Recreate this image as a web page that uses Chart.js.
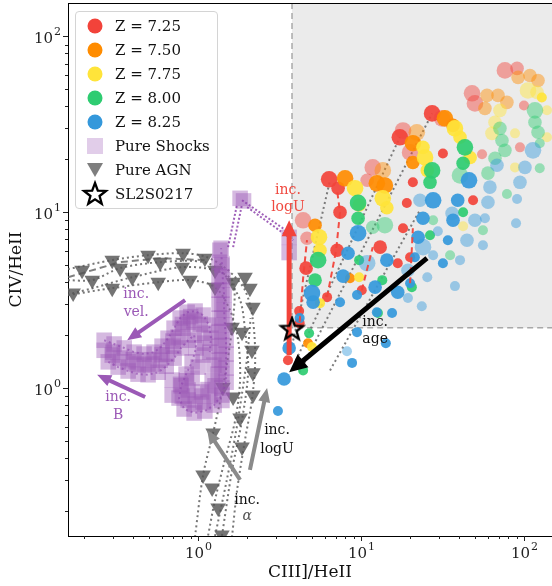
<!DOCTYPE html>
<html lang="en">
<head>
<meta charset="UTF-8">
<title>CIV/HeII vs CIII]/HeII</title>
<script src="https://cdn.jsdelivr.net/npm/chart.js"></script>
<style>
  html, body { margin: 0; padding: 0; background: #fff; overflow: hidden; }
  .wrap { position: relative; width: 552px; height: 586px; overflow: hidden; }
  .legend {
    position: absolute; left: 75px; top: 11px; width: 143px; height: 198px;
    box-sizing: border-box; border: 1px solid #d4d4d4; border-radius: 4px;
    background: rgba(255,255,255,0.85); padding-top: 2px;
    font-family: 'DejaVu Serif', serif; font-size: 15px; color: #111;
  }
  .row { display: flex; align-items: center; height: 24px; }
  .row svg { margin-left: 7px; width: 24px; height: 24px; overflow: visible; }
  .row span { margin-left: 8px; white-space: nowrap; }
</style>
</head>
<body>
<div class="wrap">
  <canvas id="c" width="552" height="586"></canvas>
  <div class="legend" id="legend"></div>
</div>
<script>
// axis ranges
const X_MIN = 0.159, X_MAX = 148.6;
const Y_MIN = 0.144, Y_MAX = 155;
// tick marks: every 1..9 x 10^n, labels on the decades
const TICK_DECADES = [-1, 0, 1, 2];
const TICK_MULTS = [1, 2, 3, 4, 5, 6, 7, 8, 9];
// grey box corner (CIII]/HeII, CIV/HeII)
const BOX_X = 3.77, BOX_Y = 2.2;

const zLabels = ['Z = 7.25', 'Z = 7.50', 'Z = 7.75', 'Z = 8.00', 'Z = 8.25'];
const zColors = ['242,67,58', '255,140,0', '255,228,58', '46,204,113', '52,152,219'];

// model points: [CIII]/HeII, CIV/HeII, size class, faded]
const z725 = [[27.3,36.5,3,0],[17.3,26.7,3,0],[18.1,29.2,3,1],[6.37,15.4,3,0],[7.23,13.7,2,0],[4.41,9.0,3,1],[4.66,7.12,2,1],[7.43,10.0,2,0],[7.13,6.08,2,0],[4.6,4.81,2,0],[6.19,3.29,1,0],[4.17,2.74,1,0],[13.1,6.33,2,0],[11.8,18.0,3,1],[10.9,15.2,2,1],[19.1,11.3,1,0],[18.1,8.11,1,0],[31.8,21.6,1,0],[48.7,11.7,1,0],[55.3,21.4,1,1],[94.5,23.4,1,1],[100,40.5,1,1],[48.0,47.5,3,1],[50.0,41.6,3,1],[76.4,64.1,3,1],[90.7,65.8,2,1],[20,21.9,3,1],[31.4,34.2,3,1],[3.56,1.44,1,0],[10.1,3.6,1,0],[16.8,5.13,1,0],[20.8,14.8,1,0],[4.2,2.34,1,0],[20,5.55,1,0]];
const z750 = [[7.98,15.6,3,0],[5.22,8.44,2,0],[13.6,17.3,3,1],[12.5,14.6,3,0],[20.8,24.7,3,0],[22.0,28.5,3,1],[20.8,19.2,2,0],[32.7,34.2,3,0],[59.3,46.2,2,1],[69.3,46.2,2,1],[57.6,39.0,2,1],[78.6,42.2,2,1],[92,58.5,2,1],[108.8,60.0,2,1],[122,56.2,2,1],[8.56,4.21,1,0],[4.73,1.80,1,0],[36.7,31.2,2,0],[14.0,14.2,3,0]];
const z775 = [[5.52,7.21,3,0],[5.6,6.08,2,0],[5.6,3.04,1,0],[9.19,13.7,3,0],[13.6,12.0,3,0],[14.4,10.6,2,0],[24,23.4,2,0],[24.7,20.5,3,0],[25.5,17.3,2,0],[37.7,30.0,3,0],[40.5,26.7,2,0],[71.2,38.0,2,1],[66.4,32.5,2,1],[63.6,28.1,2,1],[105.8,49.3,3,1],[120.2,48.1,2,1],[128.7,45.0,1,0],[138.4,38.0,1,1],[88.1,28.1,1,1],[88.1,18.0,1,1],[138.4,26.7,1,1],[9.73,4.27,1,0],[5.0,1.71,1,0],[9.73,11.0,2,0],[46.7,20.5,2,0],[42.3,8.33,1,1]];
const z800 = [[5.45,5.34,3,0],[5.22,4.11,2,0],[4.8,2.05,1,0],[4.41,1.26,1,0],[9.59,11.3,3,0],[9.59,9.25,2,0],[9.73,5.34,1,0],[14.0,8.44,3,1],[11.8,8.22,2,1],[13.5,4.11,1,0],[12.7,2.67,1,0],[27.3,17.3,3,0],[26.5,14.8,2,0],[27.7,9.0,1,1],[26.5,7.4,1,0],[43.4,23.4,3,0],[42.3,19.0,2,0],[42.3,10.0,1,0],[71.2,30.0,2,1],[73.3,25.6,2,1],[76.4,22.5,2,1],[66.4,20.3,2,1],[60.1,16.7,2,1],[56.0,7.9,1,1],[116.8,38.0,3,1],[116.8,32.5,2,1],[122,28.5,2,1],[125,24.7,1,1],[125,17.8,1,1],[78.6,12.7,1,1],[40.5,16.2,3,1],[20.5,3.75,1,0],[35.2,5.7,1,1]];
const z825 = [[5.0,3.47,3,0],[5.08,3.08,2,0],[4.2,2.5,1,0],[3.62,1.69,2,0],[3.37,1.125,2,0],[3.09,0.74,1,0],[8.2,1.62,1,1],[8.81,1.39,1,0],[14.2,1.80,1,0],[9.59,7.6,3,0],[8.32,5.85,2,0],[7.76,4.33,2,0],[7.43,3.08,1,0],[9.45,3.38,1,0],[14.4,5.34,2,0],[10.9,5.13,3,1],[12.2,3.75,2,0],[16.8,3.51,2,0],[15.5,2.67,1,0],[9.45,2.08,1,0],[27.7,11.7,3,0],[24,9.25,2,0],[23,11.7,2,1],[22.4,7.21,2,0],[24,6.33,3,1],[34.1,6.93,1,0],[31.8,5.13,1,0],[36.2,9.85,2,1],[46.0,15.2,3,0],[39.2,11.7,2,0],[36.7,9.0,2,0],[68.3,18.5,2,1],[61.8,13.9,2,1],[60.1,11.4,2,1],[50.0,9.0,2,1],[57.6,9.25,1,1],[44.7,6.93,2,1],[56.0,6.49,1,1],[113.6,22.5,3,1],[101.4,18.0,2,1],[94.5,14.8,2,1],[90.7,11.9,1,1],[89.4,8.66,1,1],[21.4,5.55,1,0],[19.4,4.68,2,1],[20,3.95,1,0],[19.4,3.25,1,1],[25.5,4.27,1,1],[40.5,5.34,1,1],[37.7,3.8,1,1],[23.6,2.92,1,1],[29.6,7.8,1,1],[27.7,5.7,1,1],[12.5,2.7,1,0]];
const zSets = [z725, z750, z775, z800, z825];

// model tracks through the grid
const redDashed = [
  [[4.2,2.37],[4.41,4.21],[4.66,6.94]],
  [[6.19,3.29],[7.03,6.08],[7.43,10.0],[7.13,13.3]],
  [[10.1,3.6],[11.8,6.33]],
  [[20,3.95],[20.8,8.11]]
];
const greyDotted = [
  [[3.77,1.75],[6.45,15.2]],
  [[3.99,1.44],[17.3,26.7]],
  [[4.2,1.23],[27.3,36.5]],
  [[6.45,1.26],[23,10.3]]
];

// pure AGN
const agnPoints = [[0.171,3.47],[0.194,4.68],[0.224,4.11],[0.297,5.34],[0.297,3.7],[0.332,4.81],[0.394,4.27],[0.493,5.7],[0.585,5.2],[0.569,4.0],[0.809,5.85],[0.798,4.87],[0.893,4.11],[1.10,5.48],[1.27,4.68],[1.27,3.75],[1.64,4.0],[1.94,4.27],[2.08,3.7],[2.17,2.88],[1.616,2.22],[1.86,2.08],[2.14,1.64],[2.17,1.22],[1.42,1.01],[1.64,0.889],[2.17,0.912],[1.81,0.675],[1.236,0.555],[1.86,0.462],[1.073,0.32],[1.219,0.27],[1.327,0.208],[1.40,0.146]];
const agnTracks = [
  [[0.159,4.75],[0.297,5.34],[0.493,5.7],[0.809,5.85],[1.136,5.55],[1.527,4.68],[1.94,3.6],[2.17,2.43],[2.24,1.44],[2.14,0.855],[1.94,0.507],[1.735,0.263],[1.616,0.144]],
  [[0.159,4.11],[0.224,4.11],[0.332,4.81],[0.585,5.2],[1.10,5.2],[1.46,4.39],[1.81,3.16],[1.94,2.14],[2.03,1.26],[1.86,0.658],[1.616,0.342],[1.40,0.144]],
  [[0.159,3.38],[0.297,3.7],[0.569,4.0],[0.893,4.11],[1.27,3.75],[1.57,2.77],[1.76,1.87],[1.81,1.11],[1.69,0.658],[1.46,0.39],[1.27,0.231],[1.15,0.144]],
  [[0.159,3.6],[0.171,3.47],[0.394,4.27],[0.798,4.87],[1.27,4.68],[1.64,4.0],[1.616,2.22],[1.42,1.01],[1.236,0.555],[1.073,0.32],[0.958,0.144]],
  [[1.27,0.144],[1.5,0.3],[1.7,0.55],[1.85,0.9],[2.0,1.5],[2.1,2.5]]
];
const agnDashed = [[0.159,4.27],[0.332,5.2],[0.585,5.48],[1.10,5.34]];

// pure shocks
const shockMid = [[0.265,1.64],[0.297,1.54],[0.332,1.48],[0.372,1.41],[0.417,1.37],[0.466,1.35],[0.522,1.37],[0.585,1.44],[0.645,1.56],[0.703,1.73],[0.754,1.95],[0.809,2.19],[0.868,2.37],[0.945,2.43],[1.03,2.31],[1.088,2.05],[1.10,1.80],[1.073,1.54],[1.0,1.316],[0.919,1.14],[0.868,0.975],[0.868,0.855],[0.958,0.811],[1.073,0.833],[1.18,0.901],[1.27,1.03],[1.327,1.20],[1.345,1.44],[1.345,1.73],[1.345,2.08],[1.345,2.5],[1.345,3.0],[1.345,3.6],[1.345,4.33],[1.345,5.2],[1.36,6.08]];
const shockUpper = [[0.265,1.87],[0.305,1.78],[0.352,1.69],[0.405,1.60],[0.466,1.56],[0.537,1.60],[0.601,1.73],[0.654,1.92],[0.712,2.19],[0.776,2.5],[0.856,2.70],[0.958,2.74],[1.073,2.6],[1.168,2.28],[1.20,1.92],[1.18,1.60]];
const shockLower = [[0.281,1.41],[0.323,1.316],[0.372,1.25],[0.428,1.20],[0.493,1.19],[0.569,1.23],[0.637,1.33],[0.712,1.48],[0.787,1.69],[0.868,1.87],[0.945,2.0],[0.972,1.69],[0.919,1.41],[0.844,1.20],[0.787,1.03],[0.764,0.877],[0.821,0.760],[0.945,0.721],[1.10,0.74],[1.254,0.80],[1.40,0.912],[1.485,1.08],[1.485,1.30],[1.485,1.56],[1.485,1.87],[1.46,2.28],[1.444,2.77],[1.444,3.38],[1.42,4.11],[1.40,5.0],[1.384,6.24]];
const shockColumn = [[1.40,0.85],[1.40,1.0],[1.40,1.2],[1.40,1.45],[1.40,1.75],[1.40,2.1],[1.40,2.5],[1.40,3.0],[1.40,3.6],[1.40,4.3],[1.40,5.1],[0.80,0.9],[0.78,1.05],[0.85,1.1],[0.95,0.9],[1.05,0.95],[1.15,0.98],[1.22,1.1],[1.25,1.35],[0.693,0.912],[0.693,1.11],[0.30,1.6],[0.40,1.45],[0.50,1.45],[0.60,1.55],[0.70,1.85],[0.80,2.3],[0.90,2.55]];
const shockTop = [[1.81,12.0],[1.9,11.6],[3.62,7.2],[3.62,5.9]];
const shockLinks = [
  [[1.527,6.33],[1.735,11.1]],
  [[1.64,6.33],[1.86,11.1]],
  [[2.0,10.7],[3.83,6.93]],
  [[1.86,11.7],[3.67,7.6]]
];

// SL2S0217
const target = [[3.77, 2.15]];

// arrows: [from, to]
const arrows = [
  { from: [3.62,1.54], to: [3.62,9.0], c: '#f2433a', w: 5, hw: 15, hl: 16 },
  { from: [25.4,5.48], to: [3.62,1.23], c: '#000', w: 5, hw: 17, hl: 18 },
  { from: [0.832,3.16], to: [0.367,1.87], c: '#9b59b6', w: 4, hw: 12, hl: 14 },
  { from: [0.473,0.889], to: [0.24,1.19], c: '#9b59b6', w: 4, hw: 12, hl: 14 },
  { from: [2.08,0.342], to: [2.65,1.0], c: '#8a8a8a', w: 4, hw: 12, hl: 14 },
  { from: [1.81,0.30], to: [1.136,0.577], c: '#8a8a8a', w: 4, hw: 12, hl: 14 }
];
const notes = [
  { at: [3.56,13.3], t: 'inc.', c: '#f04a40' }, { at: [3.56,10.7], t: 'logU', c: '#f04a40' },
  { at: [12.2,2.37], t: 'inc.', c: '#111' }, { at: [12.2,1.90], t: 'age', c: '#111' },
  { at: [0.417,3.42], t: 'inc.', c: '#9b59b6' }, { at: [0.417,2.70], t: 'vel.', c: '#9b59b6' },
  { at: [0.323,0.889], t: 'inc.', c: '#9b59b6' }, { at: [0.323,0.70], t: 'B', c: '#9b59b6' },
  { at: [3.05,0.577], t: 'inc.', c: '#111' }, { at: [3.05,0.45], t: 'logU', c: '#111' },
  { at: [2.0,0.231], t: 'inc.', c: '#111' }, { at: [2.0,0.187], t: 'α', c: '#555', italic: true }
];

const SERIF = "'DejaVu Serif', serif";
const SIZE_R = { 1: 5, 2: 6.8, 3: 8.3 };

function starPath(ctx, cx, cy, R, r) {
  ctx.beginPath();
  for (let i = 0; i < 10; i++) {
    const a = -Math.PI / 2 + i * Math.PI / 5;
    const rad = i % 2 ? r : R;
    const px = cx + rad * Math.cos(a), py = cy + rad * Math.sin(a);
    if (i) ctx.lineTo(px, py); else ctx.moveTo(px, py);
  }
  ctx.closePath();
}

const starImg = document.createElement('canvas');
starImg.width = starImg.height = 28;
(function () {
  const s = starImg.getContext('2d');
  starPath(s, 14, 14, 11.5, 4.8);
  s.lineWidth = 2.3;
  s.strokeStyle = '#000';
  s.stroke();
})();

function lineDs(data, color, dash, order) {
  return { data: data, showLine: true, pointRadius: 0, borderColor: color, borderWidth: 2,
           borderDash: dash, tension: 0, fill: false, order: order };
}

const datasets = [];
agnTracks.forEach(t => {
  const d = lineDs(t, 'rgba(95,95,95,0.85)', [2, 3], 100);
  d.tension = 0.3;
  datasets.push(d);
});
datasets.push(lineDs(agnDashed, 'rgba(95,95,95,0.8)', [7, 4], 100));
datasets.push({ data: agnPoints, pointStyle: 'triangle', pointRotation: 180, pointRadius: 9,
                pointBackgroundColor: 'rgba(85,85,85,0.82)', pointBorderWidth: 0, order: 95 });
datasets.push({ data: shockMid.concat(shockUpper, shockLower, shockColumn, shockTop), pointStyle: 'rect',
                pointRadius: 11, pointBackgroundColor: 'rgba(155,89,182,0.42)', pointBorderWidth: 0, order: 90 });
[shockUpper, shockLower].forEach(t => datasets.push(lineDs(t, 'rgba(142,68,173,0.6)', [2, 3], 88)));
shockLinks.forEach(t => datasets.push(lineDs(t, 'rgba(142,68,173,0.85)', [2, 2], 88)));
greyDotted.forEach(t => datasets.push(lineDs(t, 'rgba(110,110,110,0.9)', [2, 3], 70)));

zSets.forEach((set, i) => {
  const rgb = zColors[i];
  datasets.push({
    label: zLabels[i], data: set, order: 60 - i * 5, pointBorderWidth: 0,
    pointRadius: ctx => ctx.raw ? SIZE_R[ctx.raw[2]] : 6,
    pointBackgroundColor: ctx => 'rgba(' + rgb + ',' + (ctx.raw && ctx.raw[3] ? 0.45 : 0.92) + ')'
  });
});
redDashed.forEach(t => datasets.push(lineDs(t, 'rgba(242,67,58,0.95)', [6, 4], 25)));
datasets.push({ data: target, pointStyle: starImg, pointRadius: 12, order: 0, isStar: true });

function drawArrow(ctx, x1, y1, x2, y2, a) {
  const ang = Math.atan2(y2 - y1, x2 - x1), len = Math.hypot(x2 - x1, y2 - y1);
  ctx.save();
  ctx.translate(x1, y1);
  ctx.rotate(ang);
  ctx.fillStyle = a.c;
  ctx.beginPath();
  ctx.moveTo(0, -a.w / 2);
  ctx.lineTo(len - a.hl, -a.w / 2);
  ctx.lineTo(len - a.hl, -a.hw / 2);
  ctx.lineTo(len, 0);
  ctx.lineTo(len - a.hl, a.hw / 2);
  ctx.lineTo(len - a.hl, a.w / 2);
  ctx.lineTo(0, a.w / 2);
  ctx.closePath();
  ctx.fill();
  ctx.restore();
}

// "10" with a raised exponent, like matplotlib's log labels
function drawPow(ctx, exp, x, y, align) {
  const base = '10', sup = String(exp);
  ctx.font = '15px ' + SERIF;
  const wb = ctx.measureText(base).width;
  ctx.font = '11px ' + SERIF;
  const ws = ctx.measureText(sup).width + 1;
  const left = align === 'right' ? x - wb - ws : x - (wb + ws) / 2;
  ctx.textAlign = 'left';
  ctx.textBaseline = 'alphabetic';
  ctx.font = '15px ' + SERIF;
  ctx.fillText(base, left, y);
  ctx.font = '11px ' + SERIF;
  ctx.fillText(sup, left + wb + 1, y - 8);
}

const shadePlugin = {
  id: 'shade',
  beforeDatasetsDraw(chart) {
    const { ctx, chartArea: a, scales: { x, y } } = chart;
    const x0 = x.getPixelForValue(BOX_X), y0 = y.getPixelForValue(BOX_Y);
    ctx.save();
    ctx.fillStyle = '#ebebeb';
    ctx.fillRect(x0, a.top, a.right - x0, y0 - a.top);
    ctx.setLineDash([6, 4]);
    ctx.strokeStyle = '#a8a8a8';
    ctx.lineWidth = 1.5;
    ctx.beginPath();
    ctx.moveTo(x0, a.top);
    ctx.lineTo(x0, y0);
    ctx.lineTo(a.right, y0);
    ctx.stroke();
    ctx.restore();
  }
};

const annotatePlugin = {
  id: 'annotate',
  beforeDatasetDraw(chart, args) {
    if (!chart.data.datasets[args.index].isStar) return;
    const { ctx, scales: { x, y } } = chart;
    arrows.forEach(a => drawArrow(ctx,
      x.getPixelForValue(a.from[0]), y.getPixelForValue(a.from[1]),
      x.getPixelForValue(a.to[0]), y.getPixelForValue(a.to[1]), a));
  },
  afterDatasetsDraw(chart) {
    const { ctx, scales: { x, y } } = chart;
    ctx.save();
    ctx.textAlign = 'center';
    ctx.textBaseline = 'middle';
    notes.forEach(n => {
      ctx.font = (n.italic ? 'italic ' : '') + '14px ' + SERIF;
      ctx.fillStyle = n.c;
      ctx.fillText(n.t, x.getPixelForValue(n.at[0]), y.getPixelForValue(n.at[1]));
    });
    ctx.restore();
  },
  afterDraw(chart) {
    const { ctx, chartArea: a, scales: { x, y } } = chart;
    ctx.save();
    ctx.strokeStyle = '#222';
    ctx.lineWidth = 1;
    ctx.fillStyle = '#222';
    TICK_DECADES.forEach(d => TICK_MULTS.forEach(m => {
      const v = m * Math.pow(10, d);
      const len = m === 1 ? 5 : 3;
      if (v >= X_MIN && v <= X_MAX) {
        const p = Math.round(x.getPixelForValue(v)) + 0.5;
        ctx.beginPath(); ctx.moveTo(p, a.bottom); ctx.lineTo(p, a.bottom + len); ctx.stroke();
        if (m === 1) drawPow(ctx, d, p, a.bottom + 22, 'center');
      }
      if (v >= Y_MIN && v <= Y_MAX) {
        const p = Math.round(y.getPixelForValue(v)) + 0.5;
        ctx.beginPath(); ctx.moveTo(a.left, p); ctx.lineTo(a.left - len, p); ctx.stroke();
        if (m === 1) drawPow(ctx, d, a.left - 7, p + 6, 'right');
      }
    }));
    ctx.strokeStyle = '#000';
    ctx.beginPath();
    ctx.moveTo(a.left, a.top + 0.5);
    ctx.lineTo(a.right, a.top + 0.5);
    ctx.stroke();
    ctx.restore();
  }
};

new Chart(document.getElementById('c'), {
  type: 'scatter',
  data: { datasets: datasets },
  options: {
    responsive: false,
    animation: false,
    events: [],
    layout: { autoPadding: false, padding: { top: 3, right: 0, bottom: 0, left: 0 } },
    plugins: { legend: { display: false }, tooltip: { enabled: false } },
    scales: {
      x: {
        type: 'logarithmic', min: X_MIN, max: X_MAX,
        grid: { display: false },
        border: { display: true, color: '#000', width: 1 },
        ticks: { display: false },
        title: { display: true, text: 'CIII]/HeII', color: '#111',
                 font: { family: SERIF, size: 17 }, padding: { top: 3, bottom: 3 } },
        afterFit(s) { s.height = 50; }
      },
      y: {
        type: 'logarithmic', min: Y_MIN, max: Y_MAX,
        grid: { display: false },
        border: { display: true, color: '#000', width: 1 },
        ticks: { display: false },
        title: { display: true, text: 'CIV/HeII', color: '#111',
                 font: { family: SERIF, size: 17 }, padding: { top: 6, bottom: 6 } },
        afterFit(s) { s.width = 68; }
      }
    }
  },
  plugins: [shadePlugin, annotatePlugin]
});

// legend
const legendItems = zLabels.map((l, i) =>
  ({ label: l, svg: '<circle cx="12" cy="12" r="7.5" fill="rgb(' + zColors[i] + ')"/>' }));
legendItems.push({ label: 'Pure Shocks', svg: '<rect x="4" y="4" width="16" height="16" fill="rgba(155,89,182,0.3)"/>' });
legendItems.push({ label: 'Pure AGN', svg: '<polygon points="4,5 20,5 12,19" fill="rgba(90,90,90,0.78)"/>' });
const starPts = [];
for (let i = 0; i < 10; i++) {
  const a = -Math.PI / 2 + i * Math.PI / 5, r = i % 2 ? 4.8 : 11.5;
  starPts.push((12 + r * Math.cos(a)).toFixed(2) + ',' + (12.5 + r * Math.sin(a)).toFixed(2));
}
legendItems.push({ label: 'SL2S0217', svg: '<polygon points="' + starPts.join(' ') + '" fill="#fff" stroke="#000" stroke-width="2.3"/>' });
document.getElementById('legend').innerHTML = legendItems.map(it =>
  '<div class="row"><svg viewBox="0 0 24 24">' + it.svg + '</svg><span>' + it.label + '</span></div>').join('');
</script>
</body>
</html>
